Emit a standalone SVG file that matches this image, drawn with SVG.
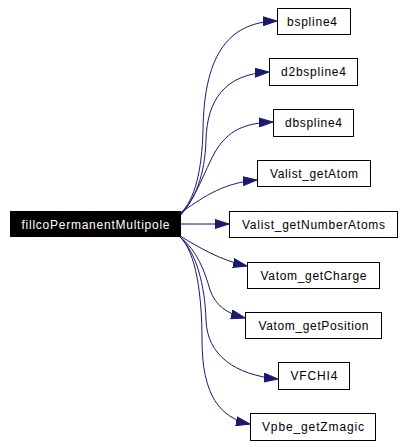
<svg xmlns="http://www.w3.org/2000/svg" width="404" height="447" viewBox="0 0 404 447">
<style>
.box{fill:#ffffff;stroke:#000000;stroke-width:1}
.main{fill:#000000;stroke:#000000;stroke-width:1}
.lbl{font-family:"Liberation Sans",Arial,Helvetica,sans-serif;font-size:12px;text-anchor:middle;fill:#000000}
.wl{fill:#ffffff}
.edge{fill:none;stroke:#191970;stroke-width:1;marker-end:url(#arr)}
</style>
<defs>
<marker id="arr" markerWidth="14" markerHeight="10" refX="14" refY="5" orient="auto" markerUnits="userSpaceOnUse">
<path d="M0,0.5 L14,5 L0,9.5 z" fill="#191970" stroke="#191970" stroke-width="1"/>
</marker>
</defs>
<rect width="404" height="447" fill="#ffffff"/>
<g id="edges">
<path class="edge" d="M180,214 C195,200 202,170 203,130 C204,60 225,22 277,21"/>
<path class="edge" d="M180,215 C195,200 205,175 206,140 C207,100 225,74 269,72"/>
<path class="edge" d="M180,216 C195,200 205,170 215,152 C228,130 245,123 273,122"/>
<path class="edge" d="M180,213 C200,200 220,183 257,180"/>
<path class="edge" d="M180,224 L229,224"/>
<path class="edge" d="M180,236 C200,248 220,260 247,266"/>
<path class="edge" d="M180,237 C197,250 205,272 210,290 C216,306 226,313 245,318"/>
<path class="edge" d="M180,237 C196,252 205,285 206,320 C207,355 235,375 278,379"/>
<path class="edge" d="M180,237 C196,252 202,295 202,340 C202,395 220,418 250,424"/>
</g>
<g id="node-main">
<rect class="main" x="10.5" y="211.5" width="170" height="25"/>
<text class="lbl wl" x="95.5" y="228.5" textLength="148" lengthAdjust="spacing">fillcoPermanentMultipole</text>
</g>
<g id="node-bspline4">
<rect class="box" x="277.5" y="8.5" width="73" height="26"/>
<text class="lbl" x="312" y="25.5" textLength="50" lengthAdjust="spacing">bspline4</text>
</g>
<g id="node-d2bspline4">
<rect class="box" x="269.5" y="58.5" width="88" height="27"/>
<text class="lbl" x="313.5" y="76" textLength="65" lengthAdjust="spacing">d2bspline4</text>
</g>
<g id="node-dbspline4">
<rect class="box" x="273.5" y="109.5" width="80" height="27"/>
<text class="lbl" x="313.5" y="127" textLength="57" lengthAdjust="spacing">dbspline4</text>
</g>
<g id="node-Valist_getAtom">
<rect class="box" x="257.5" y="160.5" width="113" height="26"/>
<text class="lbl" x="314" y="177.5" textLength="88" lengthAdjust="spacing">Valist_getAtom</text>
</g>
<g id="node-Valist_getNumberAtoms">
<rect class="box" x="229.5" y="211.5" width="168" height="26"/>
<text class="lbl" x="313.5" y="228.5" textLength="143" lengthAdjust="spacing">Valist_getNumberAtoms</text>
</g>
<g id="node-Vatom_getCharge">
<rect class="box" x="247.5" y="262.5" width="132" height="26"/>
<text class="lbl" x="313.5" y="279.5" textLength="106" lengthAdjust="spacing">Vatom_getCharge</text>
</g>
<g id="node-Vatom_getPosition">
<rect class="box" x="245.5" y="312.5" width="136" height="26"/>
<text class="lbl" x="313.5" y="329.5" textLength="110" lengthAdjust="spacing">Vatom_getPosition</text>
</g>
<g id="node-VFCHI4">
<rect class="box" x="278.5" y="362.5" width="71" height="27"/>
<text class="lbl" x="314" y="380" textLength="47" lengthAdjust="spacing">VFCHI4</text>
</g>
<g id="node-Vpbe_getZmagic">
<rect class="box" x="250.5" y="413.5" width="125" height="27"/>
<text class="lbl" x="313" y="431" textLength="102" lengthAdjust="spacing">Vpbe_getZmagic</text>
</g>
</svg>
